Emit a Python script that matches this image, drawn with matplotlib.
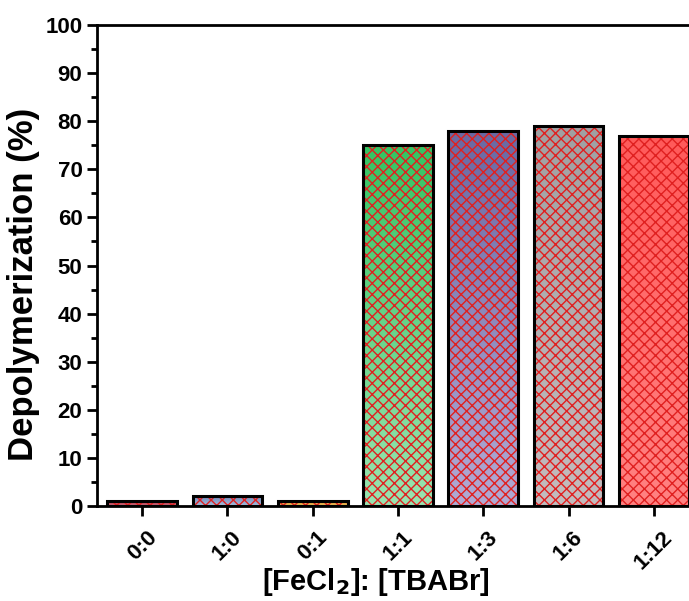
import matplotlib
matplotlib.use('Agg')
import matplotlib.pyplot as plt
import numpy as np
from matplotlib.colors import LinearSegmentedColormap
from matplotlib.ticker import MultipleLocator

plt.rcParams['font.family'] = ['Liberation Sans', 'DejaVu Sans']
plt.rcParams['font.weight'] = 'bold'
plt.rcParams['hatch.linewidth'] = 1.0

# data
ratios = ['0:0', '1:0', '0:1', '1:1', '1:3', '1:6', '1:12']
depoly = [1, 2, 1, 75, 78, 79, 77]

# gradient colours (top, bottom) for each bar
top_colors = ['#b03048', '#6f86b8', '#d89a30', '#34c462', '#6a68a2', '#a0a0a2', '#ff5a5a']
bottom_colors = ['#d07080', '#a8c0e0', '#f0c060', '#9ae4b0', '#b2aad4', '#c4bcbe', '#ff8282']

fig = plt.figure(figsize=(6.89, 6.01), dpi=100)
# axes reaches past the right edge of the figure, as in the original crop
ax = fig.add_axes([97/689, 95/601, 602/689, 481/601])

x = np.arange(len(ratios))
w = 0.82
grad = np.linspace(1, 0, 256).reshape(-1, 1)

for i, (xi, v) in enumerate(zip(x, depoly)):
	cmap = LinearSegmentedColormap.from_list('g%d' % i, [bottom_colors[i], top_colors[i]])
	bar = ax.bar(xi, v, width=w, color='none', edgecolor='none', zorder=1)[0]
	im = ax.imshow(grad, cmap=cmap, aspect='auto', extent=[xi - w/2, xi + w/2, 0, v],
	               origin='upper', zorder=1)
	im.set_clip_path(bar)
	ax.bar(xi, v, width=w, color='none', edgecolor='#e02020', hatch='xxx', linewidth=0, zorder=2)
	ax.bar(xi, v, width=w, color='none', edgecolor='black', linewidth=2.2, zorder=3)

ax.set_xlim(-0.53, 6.53)
ax.set_ylim(0, 100)
ax.yaxis.set_major_locator(MultipleLocator(10))
ax.yaxis.set_minor_locator(MultipleLocator(5))
ax.set_xticks(x)
ax.set_xticklabels(ratios, rotation=45, ha='center', va='top')

for s in ax.spines.values():
	s.set_linewidth(2.0)
ax.tick_params(axis='both', which='major', direction='out', length=7, width=2.0, labelsize=16)
ax.tick_params(axis='y', which='minor', direction='out', length=4, width=2.0)
ax.tick_params(axis='x', pad=8)

ax.set_ylabel('Depolymerization (%)', fontsize=25, fontweight='bold')
ax.yaxis.set_label_coords(-0.094, 0.46)
ax.set_xlabel('[FeCl$_\\mathbf{2}$]: [TBABr]', fontsize=21, fontweight='bold')
ax.xaxis.set_label_coords(0.463, -0.125)

plt.savefig('out.png', dpi=100)
